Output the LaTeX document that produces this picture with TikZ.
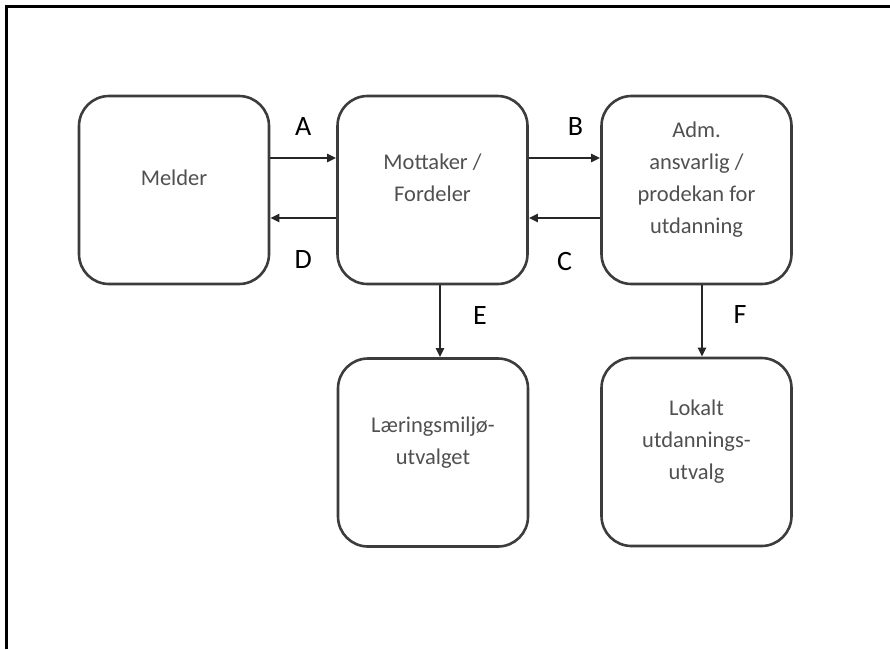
\documentclass[tikz,border=0pt]{standalone}
\usepackage{fontspec}
\setmainfont{Carlito}
\usetikzlibrary{arrows.meta,calc,positioning}
\definecolor{boxgrey}{RGB}{60,60,60}
\definecolor{textgrey}{RGB}{80,80,80}
\tikzset{
  flowbox/.style={draw=boxgrey,line width=2.6pt,rounded corners=30pt,
    minimum width=190pt,minimum height=188pt,align=center,
    text=textgrey,font=\fontsize{22.5}{32}\selectfont,text depth=24pt},
  flowarrow/.style={-{Triangle[length=9pt,width=8pt]},line width=2.4pt,draw=black!85},
  flowlabel/.style={font=\fontsize{28}{30}\selectfont}
}
\begin{document}
\begin{tikzpicture}[x=1pt,y=-1pt,line cap=butt]
\useasboundingbox (0,0) rectangle (890,649);
% frame
\draw[line width=3pt] (6.5,649) -- (6.5,6.5) -- (890,6.5);
% boxes
\node[flowbox] (melder) at (174,190) {Melder};
\node[flowbox] (mottaker) at (432.5,190) {Mottaker /\\Fordeler};
\node[flowbox] (adm) at (696.5,190) {Adm.\\ansvarlig /\\prodekan for\\utdanning};
\node[flowbox] (laering) at (433,452.5) {Læringsmiljø-\\utvalget};
\node[flowbox] (lokalt) at (696.5,452) {Lokalt\\utdannings-\\utvalg};
% connectors
\draw[flowarrow] ([yshift=32pt]melder.east) -- ([yshift=32pt]mottaker.west)
 node[midway,yshift=31pt,flowlabel] (la) {A};
\draw[flowarrow] ([yshift=-28pt]mottaker.west) -- ([yshift=-28pt]melder.east)
 node[midway,yshift=-42pt,flowlabel] (ld) {D};
\draw[flowarrow] ([yshift=32pt]mottaker.east) -- ([yshift=32pt]adm.west)
 node[midway,yshift=31pt,xshift=11pt,flowlabel] (lb) {B};
\draw[flowarrow] ([yshift=-28pt]adm.west) -- ([yshift=-28pt]mottaker.east)
 node[midway,yshift=-44pt,flowlabel] (lc) {C};
\draw[flowarrow] ([xshift=7.5pt]mottaker.south) -- ([xshift=7pt]laering.north)
 node[midway,xshift=40pt,yshift=6pt,flowlabel] (le) {E};
\draw[flowarrow] ([xshift=5.5pt]adm.south) -- ([xshift=5.5pt]lokalt.north)
 node[midway,xshift=38pt,yshift=6pt,flowlabel] (lf) {F};
\end{tikzpicture}
\end{document}
